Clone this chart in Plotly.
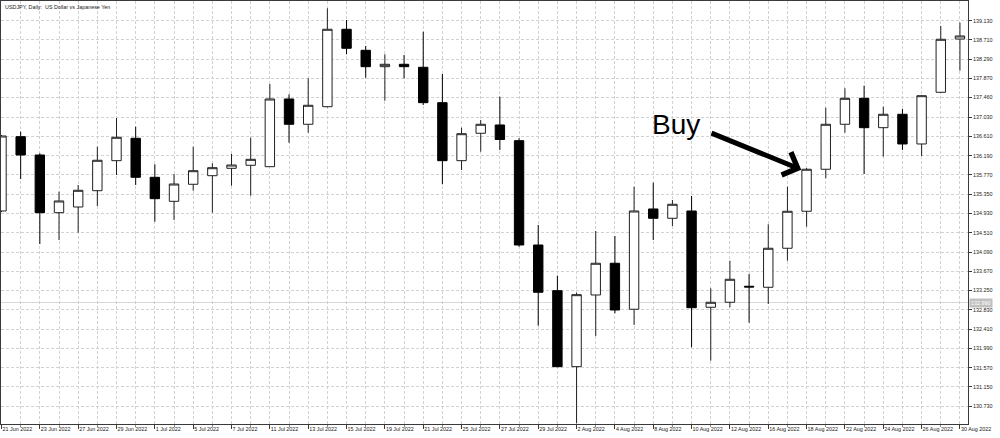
import plotly.graph_objects as go

# ---- data ----
dates = ["21 Jun 2022", "22 Jun 2022", "23 Jun 2022", "24 Jun 2022", "27 Jun 2022", "28 Jun 2022",
         "29 Jun 2022", "30 Jun 2022", "1 Jul 2022", "4 Jul 2022", "5 Jul 2022", "6 Jul 2022",
         "7 Jul 2022", "8 Jul 2022", "11 Jul 2022", "12 Jul 2022", "13 Jul 2022", "14 Jul 2022",
         "15 Jul 2022", "18 Jul 2022", "19 Jul 2022", "20 Jul 2022", "21 Jul 2022", "22 Jul 2022",
         "25 Jul 2022", "26 Jul 2022", "27 Jul 2022", "28 Jul 2022", "29 Jul 2022", "1 Aug 2022",
         "2 Aug 2022", "3 Aug 2022", "4 Aug 2022", "5 Aug 2022", "8 Aug 2022", "9 Aug 2022",
         "10 Aug 2022", "11 Aug 2022", "12 Aug 2022", "15 Aug 2022", "16 Aug 2022", "17 Aug 2022",
         "18 Aug 2022", "19 Aug 2022", "22 Aug 2022", "23 Aug 2022", "24 Aug 2022", "25 Aug 2022",
         "26 Aug 2022", "29 Aug 2022", "30 Aug 2022"]

opens = [134.984, 136.603, 136.204, 134.947, 135.071, 135.426, 136.080, 136.568, 135.718, 135.195,
         135.566, 135.753, 135.914, 135.980, 135.949, 137.424, 136.873, 137.256, 138.943, 138.485,
         138.128, 138.180, 138.115, 137.344, 136.080, 136.677, 136.858, 136.516, 134.243, 133.248,
         131.592, 133.154, 133.845, 132.843, 135.028, 134.825, 134.984, 132.886, 132.995, 133.344,
         133.322, 134.172, 134.978, 135.893, 136.873, 137.439, 136.799, 137.091, 136.444, 137.570,
         138.731]
highs = [136.640, 136.712, 136.241, 135.405, 135.551, 136.385, 137.010, 136.821, 136.002, 135.790,
         136.385, 136.023, 136.226, 136.581, 137.751, 137.527, 137.875, 139.400, 139.145, 138.579,
         138.398, 138.383, 138.890, 137.969, 136.799, 136.967, 137.474, 136.568, 134.679, 133.575,
         133.204, 134.548, 134.439, 135.514, 135.601, 135.224, 135.311, 133.300, 133.901, 133.612,
         134.694, 135.514, 135.920, 137.235, 137.657, 137.714, 137.256, 137.206, 137.510, 139.015,
         139.086]
lows = [134.960, 135.681, 134.265, 134.352, 134.511, 135.093, 135.768, 135.551, 134.751, 134.788,
        135.426, 134.947, 135.535, 135.317, 135.943, 136.472, 136.690, 137.240, 138.398, 137.888,
        137.387, 137.875, 137.293, 135.566, 135.877, 136.276, 136.313, 134.206, 132.485, 131.580,
        130.359, 132.261, 132.755, 132.501, 134.352, 134.657, 132.015, 131.723, 132.886, 132.551,
        132.958, 133.901, 134.642, 135.697, 136.690, 135.790, 136.167, 136.313, 136.182, 137.560,
        138.041]
closes = [136.618, 136.204, 134.947, 135.202, 135.435, 136.089, 136.590, 135.718, 135.252, 135.572,
          135.862, 135.927, 135.986, 136.110, 137.424, 136.873, 137.287, 138.943, 138.529, 138.128,
          138.180, 138.128, 137.344, 136.080, 136.668, 136.873, 136.542, 134.243, 133.213, 131.592,
          133.161, 133.845, 132.827, 134.984, 134.825, 135.130, 132.877, 132.995, 133.496, 133.328,
          134.172, 134.978, 135.893, 136.873, 137.439, 136.799, 137.091, 136.444, 137.496, 138.725,
          138.797]

price_ticks = ["139.130", "138.710", "138.290", "137.870", "137.460", "137.030", "136.610",
               "136.190", "135.770", "135.350", "134.930", "134.510", "134.090", "133.670",
               "133.250", "132.830", "132.410", "131.990", "131.570", "131.150", "130.730"]

line_price = 132.990
line_label = "132.990"
title_text = "USDJPY, Daily:  US Dollar vs Japanese Yen"
buy_text = "Buy"
# annotation anchor points (bar index, price)
buy_pos = (33.85, 136.86)
arrow_tail = (36.96, 136.694)
arrow_tip = (41.72, 135.885)

# ---- figure ----
idx = list(range(len(dates)))
GRID = "#d2d2d2"
AX = "#3a3a3a"
FONT = dict(family="Liberation Sans, Arial, sans-serif", size=5.4, color="#222222")

fig = go.Figure()
fig.add_trace(go.Candlestick(
    x=idx, open=opens, high=highs, low=lows, close=closes,
    increasing=dict(line=dict(color="#202020", width=1), fillcolor="#ffffff"),
    decreasing=dict(line=dict(color="#000000", width=1), fillcolor="#000000"),
    whiskerwidth=0, showlegend=False, hoverinfo="skip",
))

fig.add_shape(type="line", xref="paper", x0=0, x1=1, yref="y", y0=line_price, y1=line_price,
              line=dict(color="#d8d8d8", width=1), layer="below")

fig.add_annotation(xref="paper", x=1, yref="y", y=line_price, xanchor="left", yanchor="middle",
                   text=line_label, showarrow=False, bgcolor="#c0c0c0", borderpad=1,
                   font=dict(family=FONT["family"], size=5.4, color="#ffffff"), xshift=1)

fig.add_annotation(xref="paper", x=0, yref="paper", y=1, xanchor="left", yanchor="top",
                   text=title_text, showarrow=False, font=FONT, xshift=2, yshift=-1)

fig.add_annotation(x=buy_pos[0], y=buy_pos[1], xanchor="left", yanchor="middle",
                   text=buy_text, showarrow=False,
                   font=dict(family="Liberation Sans, Arial, sans-serif", size=28, color="#000000"))

fig.add_annotation(x=arrow_tip[0], y=arrow_tip[1], ax=arrow_tail[0], ay=arrow_tail[1],
                   axref="x", ayref="y", text="", showarrow=True,
                   arrowhead=4, arrowsize=0.95, arrowwidth=5, arrowcolor="#000000")

fig.update_layout(
    width=1000, height=438,
    margin=dict(l=1, r=32, t=1, b=14, autoexpand=False),
    paper_bgcolor="#ffffff", plot_bgcolor="#ffffff",
    showlegend=False,
    xaxis=dict(
        range=[-0.026, 50.42], autorange=False, fixedrange=True,
        rangeslider=dict(visible=False),
        tickmode="array", tickvals=idx[::2], ticktext=dates[::2], tickangle=0,
        ticklabelposition="outside right", ticks="outside", ticklen=4, tickcolor=AX,
        tickfont=FONT, automargin=False,
        showgrid=True, gridcolor=GRID, griddash="3px,2px", gridwidth=1,
        showline=True, linecolor=AX, linewidth=1, mirror=True, zeroline=False,
        minor=dict(tickmode="linear", tick0=0, dtick=1, ticks="outside", ticklen=2,
                   tickcolor="#888888", showgrid=True, gridcolor=GRID, griddash="3px,2px"),
    ),
    yaxis=dict(
        side="right", range=[130.343, 139.559], autorange=False, fixedrange=True,
        tickmode="array", tickvals=[float(t) for t in price_ticks], ticktext=price_ticks,
        ticks="outside", ticklen=3, tickcolor=AX, tickfont=FONT, automargin=False,
        showgrid=True, gridcolor=GRID, griddash="3px,2px", gridwidth=1,
        showline=True, linecolor=AX, linewidth=1, mirror=True, zeroline=False,
    ),
)

fig.write_html("out.html", config={"displayModeBar": False},
               post_script="document.body.style.margin='0';document.body.style.overflow='hidden';")
